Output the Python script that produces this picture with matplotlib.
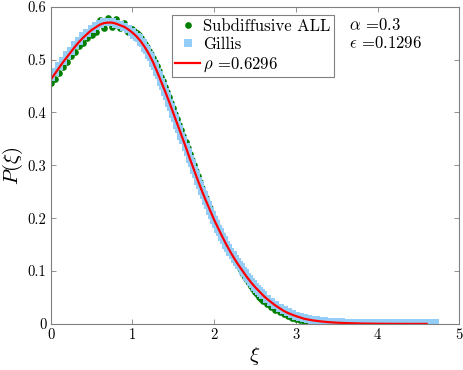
import numpy as np
import matplotlib
matplotlib.use('Agg')
import matplotlib.pyplot as plt

plt.rcParams['font.family'] = ['cmr10', 'DejaVu Sans']
plt.rcParams['mathtext.fontset'] = 'cm'
plt.rcParams['axes.formatter.use_mathtext'] = True

# red fitted curve
xi_fit = [0.00, 0.05, 0.10, 0.15, 0.20, 0.25, 0.30, 0.35, 0.40, 0.45,
          0.50, 0.55, 0.60, 0.65, 0.70, 0.75, 0.80, 0.85, 0.90, 0.95,
          1.00, 1.05, 1.10, 1.15, 1.20, 1.25, 1.30, 1.35, 1.40, 1.45,
          1.50, 1.55, 1.60, 1.65, 1.70, 1.75, 1.80, 1.85, 1.90, 1.95,
          2.00, 2.05, 2.10, 2.15, 2.20, 2.25, 2.30, 2.35, 2.40, 2.45,
          2.50, 2.55, 2.60, 2.65, 2.70, 2.75, 2.80, 2.85, 2.90, 2.95,
          3.00, 3.10, 3.20, 3.30, 3.40, 3.50, 3.60, 3.80, 4.00, 4.20,
          4.40, 4.60]
p_fit = [0.462, 0.473, 0.484, 0.495, 0.505, 0.515, 0.525, 0.534, 0.542, 0.549,
         0.556, 0.561, 0.566, 0.569, 0.570, 0.570, 0.568, 0.565, 0.562, 0.557,
         0.551, 0.544, 0.535, 0.524, 0.511, 0.496, 0.478, 0.459, 0.440, 0.420,
         0.399, 0.378, 0.357, 0.336, 0.314, 0.293, 0.272, 0.252, 0.233, 0.215,
         0.197, 0.181, 0.165, 0.150, 0.136, 0.123, 0.111, 0.100, 0.089, 0.079,
         0.070, 0.062, 0.054, 0.047, 0.041, 0.035, 0.030, 0.025, 0.021, 0.018,
         0.015, 0.010, 0.007, 0.005, 0.0035, 0.0025, 0.0018, 0.0009, 0.0005, 0.0003,
         0.0002, 0.0002]

# sample positions shared by the two data sets
xi_a = [0.00, 0.05, 0.10, 0.15, 0.20, 0.25, 0.30, 0.35, 0.40, 0.45,
        0.50, 0.55, 0.60, 0.65, 0.70, 0.75, 0.80, 0.85, 0.90, 0.95]
xi_b = [1.000, 1.025, 1.050, 1.075, 1.100, 1.125, 1.150, 1.175, 1.200, 1.225,
        1.250, 1.275, 1.300, 1.325, 1.350, 1.375, 1.400, 1.425, 1.450, 1.475,
        1.500, 1.525, 1.550, 1.575, 1.600, 1.625, 1.650, 1.675, 1.700, 1.725,
        1.750, 1.775, 1.800, 1.825, 1.850, 1.875, 1.900, 1.925, 1.950, 1.975,
        2.000, 2.025, 2.050, 2.075, 2.100, 2.125, 2.150, 2.175, 2.200, 2.225,
        2.250, 2.275, 2.300, 2.325, 2.350, 2.375, 2.400, 2.425, 2.450, 2.475,
        2.500, 2.525, 2.550, 2.575]
xi_c = [2.60, 2.65, 2.70, 2.75, 2.80, 2.85, 2.90, 2.95, 3.00, 3.05,
        3.10, 3.15, 3.20, 3.25, 3.30, 3.35, 3.40, 3.45, 3.50, 3.55,
        3.60, 3.65, 3.70, 3.75, 3.80, 3.85, 3.90, 3.95, 4.00, 4.05,
        4.10, 4.15, 4.20, 4.25, 4.30, 4.35, 4.40, 4.45, 4.50, 4.55,
        4.60]
xi_gillis_end = [4.65, 4.70]

# Subdiffusive ALL (green)
p_sub_a = [0.455, 0.463, 0.474, 0.486, 0.495, 0.506, 0.515, 0.525, 0.532, 0.540,
           0.546, 0.553, 0.574, 0.560, 0.578, 0.562, 0.576, 0.560, 0.569, 0.553]
p_sub_b = [0.558, 0.554, 0.550, 0.546, 0.541, 0.536, 0.530, 0.524, 0.517, 0.511,
           0.503, 0.496, 0.487, 0.478, 0.468, 0.459, 0.449, 0.439, 0.429, 0.418,
           0.408, 0.397, 0.387, 0.376, 0.366, 0.355, 0.344, 0.333, 0.322, 0.311,
           0.300, 0.290, 0.279, 0.268, 0.258, 0.248, 0.238, 0.229, 0.219, 0.210,
           0.201, 0.192, 0.184, 0.176, 0.168, 0.160, 0.152, 0.145, 0.138, 0.130,
           0.123, 0.116, 0.109, 0.102, 0.095, 0.089, 0.083, 0.077, 0.072, 0.066,
           0.061, 0.056, 0.052, 0.047]
p_sub_c = [0.043, 0.037, 0.032, 0.027, 0.022, 0.018, 0.015, 0.012, 0.010, 0.008,
           0.006, 0.005, 0.004, 0.003, 0.002, 0.002, 0.001, 0.001, 0.001, 0.001,
           0.002, 0.001, 0.002, 0.001, 0.001, 0.002, 0.001, 0.001, 0.002, 0.001,
           0.001, 0.001, 0.002, 0.001, 0.000, 0.001, 0.000, 0.000, 0.000, 0.000,
           0.000]

# Gillis (light blue)
p_gil_a = [0.467, 0.476, 0.487, 0.497, 0.508, 0.517, 0.527, 0.536, 0.544, 0.551,
           0.557, 0.563, 0.567, 0.571, 0.571, 0.572, 0.568, 0.566, 0.561, 0.557]
p_gil_b = [0.553, 0.546, 0.542, 0.541, 0.533, 0.531, 0.522, 0.519, 0.509, 0.505,
           0.494, 0.488, 0.476, 0.470, 0.457, 0.451, 0.438, 0.431, 0.418, 0.411,
           0.397, 0.390, 0.376, 0.369, 0.355, 0.348, 0.334, 0.326, 0.312, 0.305,
           0.291, 0.284, 0.270, 0.263, 0.251, 0.244, 0.232, 0.225, 0.214, 0.207,
           0.196, 0.190, 0.180, 0.174, 0.164, 0.159, 0.149, 0.144, 0.136, 0.131,
           0.122, 0.118, 0.111, 0.107, 0.100, 0.096, 0.089, 0.085, 0.079, 0.076,
           0.070, 0.067, 0.062, 0.059]
p_gil_c = [0.055, 0.048, 0.042, 0.036, 0.031, 0.026, 0.022, 0.019, 0.016, 0.013,
           0.011, 0.009, 0.008, 0.007, 0.006, 0.005, 0.004, 0.004, 0.003, 0.003,
           0.002, 0.002, 0.002, 0.002, 0.001, 0.001, 0.001, 0.001, 0.001, 0.001,
           0.001, 0.001, 0.001, 0.001, 0.001, 0.001, 0.001, 0.001, 0.001, 0.001,
           0.001]
p_gil_end = [0.001, 0.001]

xi_sub = xi_a + xi_b + xi_c
p_sub = p_sub_a + p_sub_b + p_sub_c
xi_gil = xi_a + xi_b + xi_c + xi_gillis_end
p_gil = p_gil_a + p_gil_b + p_gil_c + p_gil_end

fig = plt.figure(figsize=(4.63, 3.70), dpi=100)
ax = fig.add_axes([0.1095, 0.1243, 0.8825, 0.8575])

ax.plot(xi_sub, p_sub, 'o', color='#007f00', markersize=4.8, markeredgewidth=0,
        label='Subdiffusive ALL')
ax.plot(xi_gil, p_gil, 's', color='#94cdf7', markersize=6.0, markeredgewidth=0,
        label='Gillis')
ax.plot(xi_fit, p_fit, '-', color='red', lw=1.6, label=r'$\rho$ =0.6296')

ax.set_xlim(0, 5)
ax.set_ylim(0, 0.6)
ax.set_xticks([0, 1, 2, 3, 4, 5])
ax.set_xticklabels(['0', '1', '2', '3', '4', '5'])
ax.set_yticks([0, 0.1, 0.2, 0.3, 0.4, 0.5, 0.6])
ax.set_yticklabels(['0', '0.1', '0.2', '0.3', '0.4', '0.5', '0.6'])
ax.tick_params(direction='in', length=3.5, width=0.6, color='#808080',
               labelsize=10.5, top=True, right=True, pad=3)
for s in ax.spines.values():
    s.set_color('#808080')
    s.set_linewidth(0.8)

ax.set_xlabel(r'$\xi$', fontsize=15, labelpad=2)
ax.set_ylabel(r'$P(\xi)$', fontsize=15, labelpad=2)

leg = ax.legend(loc='upper left', bbox_to_anchor=(0.297, 0.974), borderaxespad=0,
                fontsize=12, fancybox=False, edgecolor='#808080', framealpha=1,
                handlelength=1.5, handletextpad=0.15, labelspacing=0.2,
                borderpad=0.2, markerscale=1.0)
leg.get_frame().set_linewidth(0.8)

ax.text(0.73, 0.967, '$\\alpha$ =0.3\n$\\epsilon$ =0.1296', transform=ax.transAxes,
        va='top', ha='left', fontsize=12, linespacing=1.15, zorder=6)

fig.savefig('out.png', dpi=100)
